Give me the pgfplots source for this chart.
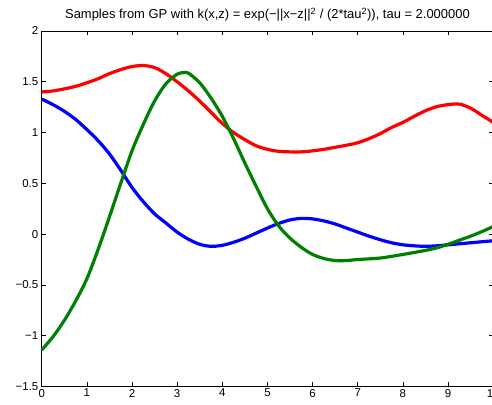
\documentclass[border=0pt]{standalone}
\usepackage{fontspec}
\setmainfont{Liberation Sans}
\usepackage{pgfplots}
\pgfplotsset{compat=1.18}

\definecolor{mred}{RGB}{255,0,0}
\definecolor{mblue}{RGB}{0,0,255}
\definecolor{mgreen}{RGB}{0,128,0}

\begin{document}
\begin{tikzpicture}
\begin{axis}[
  name=ax,
  scale only axis,
  width=451.5bp,
  height=355.5bp,
  xmin=0,xmax=10,
  ymin=-1.5,ymax=2,
  xtick={0,1,...,10},
  xticklabels={0,1,2,3,4,5,6,7,8,9,10},
  ytick={-1.5,-1,-0.5,0,0.5,1,1.5,2},
  yticklabels={−1.5,−1,−0.5,0,0.5,1,1.5,2},
  tick align=inside,
  xtick pos=both,
  ytick pos=both,
  major tick length=4.5bp,
  axis line style={black,line width=0.6bp},
  every tick/.style={black,line width=0.6bp},
  tick label style={font=\fontsize{11.5}{13}\selectfont},
  xticklabel style={yshift=1bp},
  title={Samples from GP with k(x,z) = exp(−||x−z||\textsuperscript{2} / (2*tau\textsuperscript{2})), tau = 2.000000},
  title style={font=\fontsize{13}{15}\selectfont,at={(0.5,1)},anchor=south,yshift=0bp},
  clip=false
]
% red sample
\addplot[mred,line width=3.2bp,smooth] coordinates {
  (0,1.40) (0.25,1.41) (0.5,1.43) (0.75,1.455) (1.0,1.49) (1.25,1.53)
  (1.5,1.58) (1.75,1.62) (2.0,1.65) (2.25,1.66) (2.5,1.64) (2.75,1.58)
  (3.0,1.50) (3.25,1.41) (3.5,1.31) (3.75,1.20) (4.0,1.09) (4.25,1.00)
  (4.5,0.93) (4.75,0.87) (5.0,0.835) (5.25,0.815) (5.5,0.81) (5.75,0.81)
  (6.0,0.82) (6.25,0.835) (6.5,0.855) (6.75,0.875) (7.0,0.90) (7.25,0.94)
  (7.5,0.99) (7.75,1.05) (8.0,1.10) (8.25,1.16) (8.5,1.215) (8.75,1.255)
  (9.0,1.275) (9.25,1.28) (9.5,1.24) (9.75,1.17) (10,1.10)
};
% blue sample
\addplot[mblue,line width=3.2bp,smooth] coordinates {
  (0,1.33) (0.25,1.275) (0.5,1.21) (0.75,1.13) (1.0,1.03) (1.25,0.92)
  (1.5,0.79) (1.75,0.63) (2.0,0.46) (2.25,0.32) (2.5,0.20) (2.75,0.11)
  (3.0,0.02) (3.25,-0.05) (3.5,-0.10) (3.75,-0.12) (4.0,-0.11) (4.25,-0.08)
  (4.5,-0.04) (4.75,0.01) (5.0,0.06) (5.25,0.105) (5.5,0.14) (5.75,0.155)
  (6.0,0.15) (6.25,0.13) (6.5,0.10) (6.75,0.06) (7.0,0.02) (7.25,-0.02)
  (7.5,-0.055) (7.75,-0.085) (8.0,-0.105) (8.25,-0.115) (8.5,-0.12)
  (8.75,-0.115) (9.0,-0.105) (9.5,-0.085) (10,-0.065)
};
% green sample
\addplot[mgreen,line width=3.2bp,smooth] coordinates {
  (0,-1.14) (0.25,-1.01) (0.5,-0.85) (0.75,-0.66) (1.0,-0.44) (1.25,-0.15)
  (1.5,0.17) (1.75,0.50) (2.0,0.82) (2.25,1.08) (2.5,1.31) (2.75,1.48)
  (3.0,1.575) (3.15,1.59) (3.25,1.585) (3.5,1.49) (3.75,1.34) (4.0,1.16)
  (4.25,0.94) (4.5,0.70) (4.75,0.47) (5.0,0.25) (5.25,0.08) (5.5,-0.04)
  (5.75,-0.13) (6.0,-0.20) (6.25,-0.24) (6.5,-0.26) (6.75,-0.26) (7.0,-0.25)
  (7.5,-0.235) (8.0,-0.20) (8.5,-0.16) (8.75,-0.135) (9.0,-0.10)
  (9.25,-0.06) (9.5,-0.02) (9.75,0.025) (10,0.075)
};
\end{axis}
\pgfresetboundingbox
\path[use as bounding box] ([shift={(-41.7bp,-18.3bp)}]ax.south west)
  rectangle ([shift={(450.3bp,31bp)}]ax.north west);
\end{tikzpicture}
\end{document}
